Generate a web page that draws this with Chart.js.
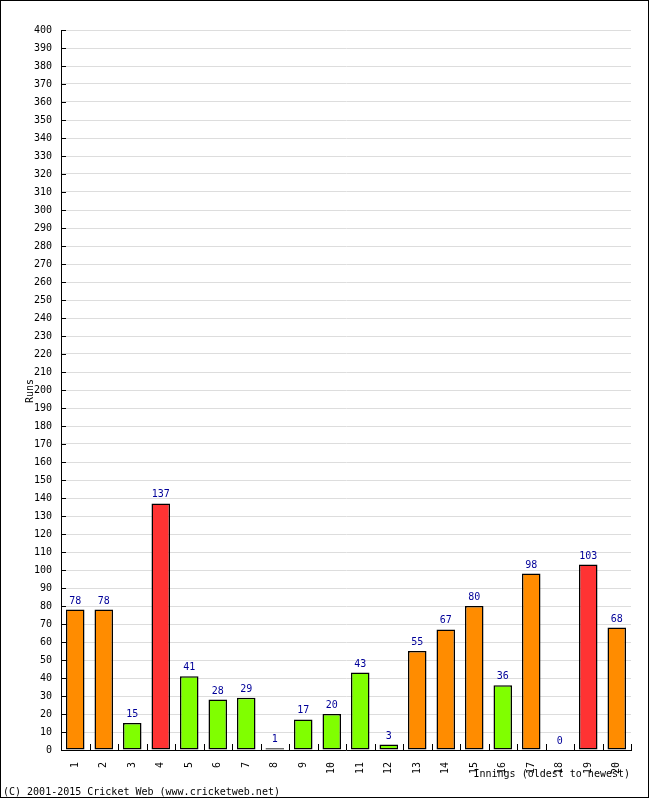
<!DOCTYPE html>
<html>
<head>
<meta charset="utf-8">
<script src="https://cdn.jsdelivr.net/npm/chart.js@4/dist/chart.umd.min.js"></script>
<style>
html,body{margin:0;padding:0;background:#fff;}
#c{display:block;}
</style>
</head>
<body>
<canvas id="c" width="650" height="800"></canvas>
<script>
const innings = ["1","2","3","4","5","6","7","8","9","10","11","12","13","14","15","16","17","18","19","20"];
const runs = [78,78,15,137,41,28,29,1,17,20,43,3,55,67,80,36,98,0,103,68];
const yMin = 0, yMax = 400, yStep = 10;
const yTitle = "Runs";
const xTitle = "Innings (oldest to newest)";
const footer = "(C) 2001-2015 Cricket Web (www.cricketweb.net)";

const FONT = "'DejaVu Sans Mono', monospace";
function barColor(v){ return v >= 100 ? "#FF3333" : (v >= 50 ? "#FF8C00" : "#80FF00"); }

const decor = {
  id: 'decor',
  afterDatasetsDraw(chart){
    const ctx = chart.ctx;
    const x = chart.scales.x, y = chart.scales.y;
    const area = chart.chartArea;
    ctx.save();
    // y tick marks inside
    ctx.strokeStyle = '#000'; ctx.lineWidth = 1;
    ctx.beginPath();
    for (let v = yMin; v <= yMax; v += yStep){
      const py = Math.round(y.getPixelForValue(v)) + 0.5;
      ctx.moveTo(area.left, py); ctx.lineTo(area.left + 5, py);
    }
    // x tick marks at category boundaries
    const n = innings.length;
    const step = x.getPixelForValue(1) - x.getPixelForValue(0);
    for (let i = 0; i <= n; i++){
      let px = (i < n) ? x.getPixelForValue(i) - step/2 : x.getPixelForValue(n-1) + step/2;
      px = Math.round(px) + 0.5;
      ctx.moveTo(px, area.bottom); ctx.lineTo(px, area.bottom - 6);
    }
    ctx.stroke();
    // value labels
    const meta = chart.getDatasetMeta(0);
    ctx.fillStyle = '#000099';
    ctx.font = '10px ' + FONT;
    ctx.textAlign = 'center';
    ctx.textBaseline = 'alphabetic';
    meta.data.forEach((bar, i) => {
      ctx.fillText(String(runs[i]), bar.x, bar.y - 6);
    });
    // titles
    ctx.fillStyle = '#000';
    ctx.textAlign = 'right';
    ctx.fillText(xTitle, area.right - 1, 777);
    ctx.textAlign = 'left';
    ctx.fillText(footer, 3, 795);
    ctx.save();
    ctx.translate(30, 391);
    ctx.rotate(-Math.PI/2);
    ctx.textAlign = 'center';
    ctx.textBaseline = 'middle';
    ctx.fillText(yTitle, 0, 0);
    ctx.restore();
    // frame
    ctx.strokeStyle = '#000';
    ctx.lineWidth = 1;
    ctx.strokeRect(0.5, 0.5, 648, 797);
    ctx.restore();
  }
};

new Chart(document.getElementById('c'), {
  type: 'bar',
  data: {
    labels: innings,
    datasets: [{
      data: runs,
      backgroundColor: runs.map(barColor),
      borderColor: '#000',
      borderWidth: 1.5,
      borderSkipped: false,
      barPercentage: 0.65,
      categoryPercentage: 1.0
    }]
  },
  options: {
    responsive: false,
    animation: false,
    devicePixelRatio: 1,
    layout: { padding: { left: 0, top: 30, right: 19, bottom: 20 } },
    plugins: { legend: { display: false }, tooltip: { enabled: false }, title: { display: false } },
    scales: {
      x: {
        grid: { display: false },
        border: { display: true, color: '#000', width: 1 },
        ticks: { color: '#000', font: { family: FONT, size: 10 }, maxRotation: 90, minRotation: 90, padding: 4, autoSkip: false },
        afterFit(s){ s.height = 30; }
      },
      y: {
        min: yMin, max: yMax,
        grid: { color: '#dddddd', drawTicks: false },
        border: { display: true, color: '#000', width: 1 },
        ticks: { stepSize: yStep, color: '#000', font: { family: FONT, size: 10 }, padding: 9, autoSkip: false },
        afterFit(s){ s.width = 61; }
      }
    }
  },
  plugins: [decor]
});
</script>
</body>
</html>
